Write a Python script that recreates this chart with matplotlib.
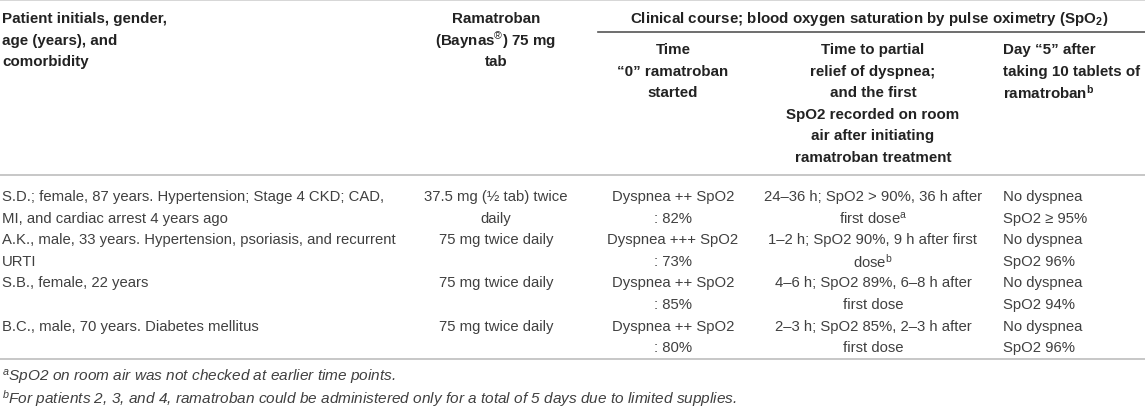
import matplotlib.pyplot as plt

plt.rcParams['font.family'] = ['Liberation Sans', 'DejaVu Sans']
plt.rcParams['mathtext.fontset'] = 'custom'
plt.rcParams['mathtext.rm'] = 'Liberation Sans'
plt.rcParams['mathtext.it'] = 'Liberation Sans:italic'
plt.rcParams['mathtext.bf'] = 'Liberation Sans:bold'

# header texts (one entry per printed line)
head_patient = ["Patient initials, gender,", "age (years), and", "comorbidity"]
head_drug = ["Ramatroban", r"(Baynas$^{\mathrm{®}}$) 75 mg", "tab"]
head_group = r"Clinical course; blood oxygen saturation by pulse oximetry (SpO$_{\mathbf{2}}$)"
head_time0 = ["Time", "\u201c0\u201d ramatroban", "started"]
head_relief = ["Time to partial", "relief of dyspnea;", "and the first",
               "SpO2 recorded on room", "air after initiating", "ramatroban treatment"]
head_day5 = ["Day \u201c5\u201d after", "taking 10 tablets of", r"ramatroban$^{\mathbf{b}}$"]

# body rows
patients = [
    ["S.D.; female, 87 years. Hypertension; Stage 4 CKD; CAD,", "MI, and cardiac arrest 4 years ago"],
    ["A.K., male, 33 years. Hypertension, psoriasis, and recurrent", "URTI"],
    ["S.B., female, 22 years"],
    ["B.C., male, 70 years. Diabetes mellitus"],
]
dosing = [
    ["37.5 mg (\u00bd tab) twice", "daily"],
    ["75 mg twice daily"],
    ["75 mg twice daily"],
    ["75 mg twice daily"],
]
time0 = [
    ["Dyspnea ++ SpO2", ": 82%"],
    ["Dyspnea +++ SpO2", ": 73%"],
    ["Dyspnea ++ SpO2", ": 85%"],
    ["Dyspnea ++ SpO2", ": 80%"],
]
relief = [
    ["24\u201336 h; SpO2 > 90%, 36 h after", r"first dose$^{\mathrm{a}}$"],
    ["1\u20132 h; SpO2 90%, 9 h after first", r"dose$^{\mathrm{b}}$"],
    ["4\u20136 h; SpO2 89%, 6\u20138 h after", "first dose"],
    ["2\u20133 h; SpO2 85%, 2\u20133 h after", "first dose"],
]
day5 = [
    ["No dyspnea", "SpO2 \u2265 95%"],
    ["No dyspnea", "SpO2 96%"],
    ["No dyspnea", "SpO2 94%"],
    ["No dyspnea", "SpO2 96%"],
]
footnotes = [
    r"$^{a}$SpO2 on room air was not checked at earlier time points.",
    r"$^{b}$For patients 2, 3, and 4, ramatroban could be administered only for a total of 5 days due to limited supplies.",
]

W, H = 1145, 410
fig = plt.figure(figsize=(W / 100, H / 100), dpi=100)
ax = fig.add_axes([0, 0, 1, 1])
ax.set_xlim(0, W)
ax.set_ylim(H, 0)
ax.axis('off')

FS_HEAD = 10.9
FS_BODY = 10.7
FS_NOTE = 11.1
LINE = 21.6
HEAD_C = '#222222'
BODY_C = '#404040'

# column anchors (x, alignment)
cols = [(2, 'left'), (496, 'center'), (673, 'center'), (873, 'center'), (1003, 'left')]


def put_lines(lines, col, y0, bold=False, color=BODY_C):
    x, ha = cols[col]
    for i, s in enumerate(lines):
        ax.text(x, y0 + i * LINE, s, ha=ha, va='center',
                fontsize=FS_HEAD if bold else FS_BODY,
                fontweight='bold' if bold else 'normal', color=color)


# rules
ax.plot([0, W], [1, 1], color='#cfcfcf', lw=1.2)
ax.plot([598, W], [32.5, 32.5], color='#555555', lw=1.2)
ax.plot([0, W], [176, 176], color='#bdbdbd', lw=1.2)
ax.plot([0, W], [360, 360], color='#bdbdbd', lw=1.2)

# header
put_lines(head_patient, 0, 19, bold=True, color=HEAD_C)
put_lines(head_drug, 1, 19, bold=True, color=HEAD_C)
ax.text(869, 19, head_group, ha='center', va='center', fontsize=FS_HEAD,
        fontweight='bold', color=HEAD_C)
put_lines(head_time0, 2, 50, bold=True, color=HEAD_C)
put_lines(head_relief, 3, 50, bold=True, color=HEAD_C)
put_lines(head_day5, 4, 50, bold=True, color=HEAD_C)

# body: each row takes two printed lines
y_first = 197
for r in range(len(patients)):
    y0 = y_first + 2 * r * LINE
    for c, col_data in enumerate([patients, dosing, time0, relief, day5]):
        put_lines(col_data[r], c, y0)

# footnotes
for i, s in enumerate(footnotes):
    ax.text(2, 378 + i * 21, s, ha='left', va='center', fontsize=FS_NOTE,
            style='italic', color=BODY_C)

fig.savefig('out.png', dpi=100)
